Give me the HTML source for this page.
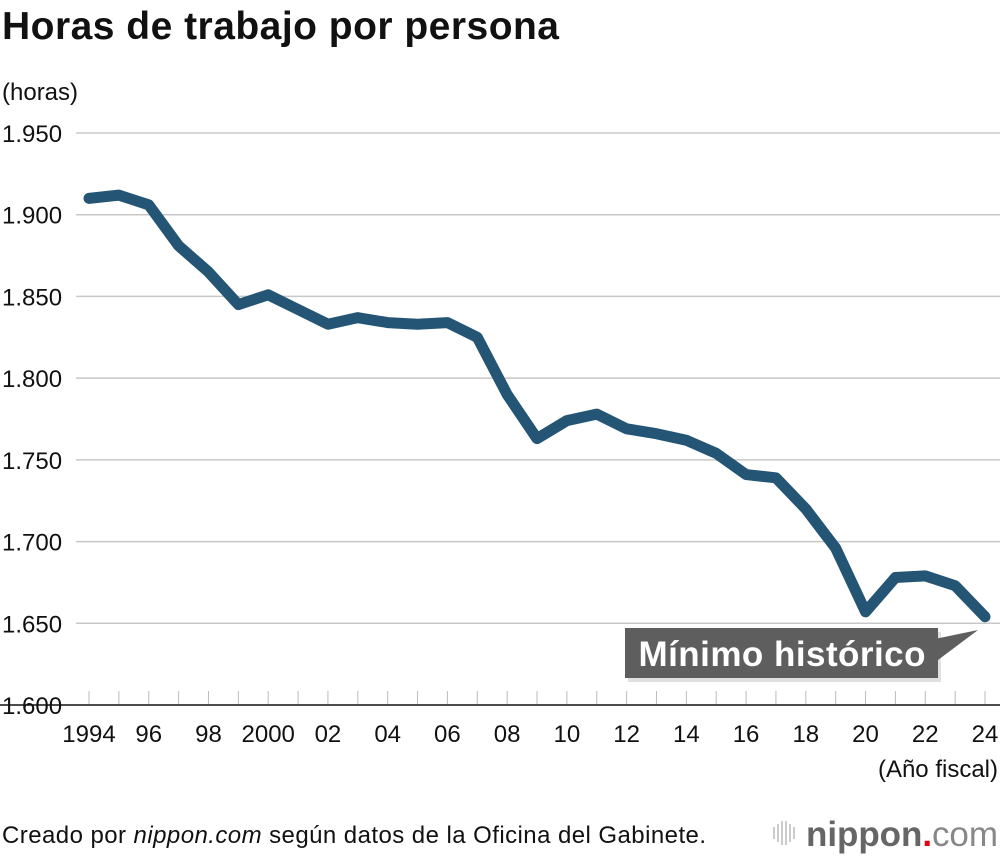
<!DOCTYPE html>
<html><head><meta charset="utf-8"><style>
body{margin:0;background:#fff;width:1000px;height:856px;overflow:hidden;font-family:"Liberation Sans",Arial,sans-serif}
svg{display:block}
</style></head><body>
<svg width="1000" height="856" viewBox="0 0 1000 856">
<text x="2" y="39" font-size="39" font-weight="bold" fill="#111" textLength="557">Horas de trabajo por persona</text>
<text x="2" y="100" font-size="24" fill="#111">(horas)</text>
<g id="grid"></g>
<g id="xax"></g>
<path id="line" fill="none" stroke="#245574" stroke-width="11" stroke-linejoin="round" stroke-linecap="round"/>
<g>
<rect x="628" y="632" width="313" height="50" fill="#999" opacity="0.3"/>
<polygon points="930,640 978,630 930,666" fill="#5e5e5e"/>
<rect x="625" y="628" width="313" height="50" fill="#5e5e5e"/>
<text x="782" y="666" font-size="35" font-weight="bold" fill="#fff" text-anchor="middle" textLength="287">Mínimo histórico</text>
</g>
<text x="998" y="777" font-size="24" fill="#111" text-anchor="end">(Año fiscal)</text>
<text x="2" y="843" font-size="24" fill="#111" textLength="704">Creado por <tspan font-style="italic">nippon.com</tspan> según datos de la Oficina del Gabinete.</text>
<g>
<g stroke="#bbb" stroke-width="1.5">
<line x1="774" y1="827" x2="774" y2="839"/><line x1="778" y1="824" x2="778" y2="842"/><line x1="782" y1="821" x2="782" y2="845"/><line x1="786" y1="821" x2="786" y2="845"/><line x1="790" y1="824" x2="790" y2="842"/><line x1="794" y1="827" x2="794" y2="839"/>
</g>
<text x="806" y="846" font-size="35" fill="#666" font-weight="bold" textLength="192">nippon<tspan fill="#e60012">.</tspan><tspan font-weight="normal" fill="#888">com</tspan></text>
</g>
</svg>
<script>
const years=[1994,1995,1996,1997,1998,1999,2000,2001,2002,2003,2004,2005,2006,2007,2008,2009,2010,2011,2012,2013,2014,2015,2016,2017,2018,2019,2020,2021,2022,2023,2024];
const hours=[1910,1912,1906,1881,1865,1845,1851,1842,1833,1837,1834,1833,1834,1825,1790,1763,1774,1778,1769,1766,1762,1754,1741,1739,1720,1696,1657,1678,1679,1673,1654];
const yTicks=[1600,1650,1700,1750,1800,1850,1900,1950];
const yTickLabels=["1.600","1.650","1.700","1.750","1.800","1.850","1.900","1.950"];
const xLabelYears=[1994,1996,1998,2000,2002,2004,2006,2008,2010,2012,2014,2016,2018,2020,2022,2024];
const xLabels=["1994","96","98","2000","02","04","06","08","10","12","14","16","18","20","22","24"];
const NS="http://www.w3.org/2000/svg";
const x=v=>89+(v-1994)*(985-89)/30;
const y=v=>705-(v-1600)*(705-133)/350;
function mk(tag,attrs,parent){const e=document.createElementNS(NS,tag);for(const k in attrs)e.setAttribute(k,attrs[k]);parent.appendChild(e);return e;}
const grid=document.getElementById('grid');
yTicks.forEach((t,i)=>{
 if(i>0){const l=mk('line',{x1:76,x2:1000,y1:y(t),y2:y(t),stroke:'#c8c8c8','stroke-width':1.5},grid);
 
 }
 const tx=mk('text',{x:2,y:y(t)+9,'font-size':24,fill:'#111'},grid);tx.textContent=yTickLabels[i];
 
 
});
const xax=document.getElementById('xax');
const ax=mk('line',{x1:0,x2:1000,y1:705,y2:705,stroke:'#111','stroke-width':1.5},xax);


years.forEach(yr=>{const t=mk('line',{x1:x(yr),x2:x(yr),y1:691,y2:704,stroke:'#bbb','stroke-width':1},xax);
 
 });
xLabelYears.forEach((yr,i)=>{const t=mk('text',{x:x(yr),y:742,'font-size':24,fill:'#111','text-anchor':'middle'},xax);t.textContent=xLabels[i];
 
 });
document.getElementById('line').setAttribute('d',years.map((yr,i)=>(i?'L':'M')+x(yr)+','+y(hours[i])).join(''));
</script>
</body></html>
